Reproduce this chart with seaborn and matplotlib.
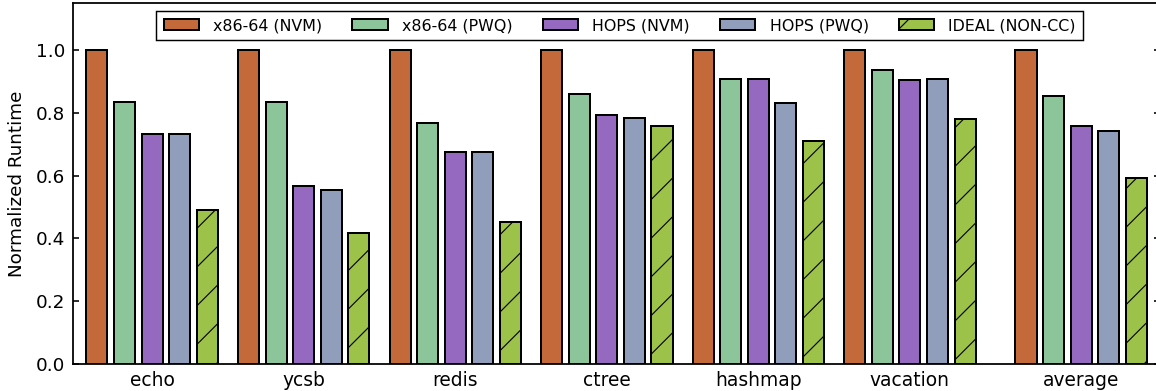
import numpy as np
import pandas as pd
import seaborn as sns
import matplotlib.pyplot as plt

# benchmarks and where each group sits (average is pushed a bit to the right)
benchmarks = ["echo", "ycsb", "redis", "ctree", "hashmap", "vacation", "average"]
positions = [0, 1, 2, 3, 4, 5, 6.13]

series = ["x86-64 (NVM)", "x86-64 (PWQ)", "HOPS (NVM)", "HOPS (PWQ)", "IDEAL (NON-CC)"]
x86_nvm = [1.0, 1.0, 1.0, 1.0, 1.0, 1.0, 1.0]
x86_pwq = [0.834, 0.835, 0.769, 0.861, 0.909, 0.937, 0.854]
hops_nvm = [0.732, 0.566, 0.676, 0.792, 0.907, 0.905, 0.757]
hops_pwq = [0.732, 0.555, 0.676, 0.785, 0.831, 0.908, 0.742]
ideal = [0.490, 0.416, 0.452, 0.758, 0.710, 0.779, 0.593]

colors = ["#c46a3a", "#8cc59a", "#9569c0", "#919ebb", "#9dc24a"]

# long table for seaborn
values = [x86_nvm, x86_pwq, hops_nvm, hops_pwq, ideal]
rows = []
for name, vals in zip(series, values):
    for pos, v in zip(positions, vals):
        rows.append({"pos": pos, "config": name, "runtime": v})
df = pd.DataFrame(rows)

DPI = 232
plt.rcParams["hatch.linewidth"] = 0.35
plt.rcParams["font.family"] = ["DejaVu Sans"]

fig = plt.figure(figsize=(1156 / DPI, 391 / DPI), dpi=DPI)
ax = fig.add_axes([73 / 1156, 27 / 391, (1160 - 73) / 1156, 361 / 391])

sns.barplot(data=df, x="pos", y="runtime", hue="config", hue_order=series,
            palette=colors, saturation=1, native_scale=True, width=0.91,
            gap=0.235, errorbar=None, edgecolor="black", linewidth=0.62,
            legend=False, ax=ax)

# hatch the ideal bars
for p in ax.containers[4]:
    p.set_hatch("//")

ax.set_xlim(-0.522, 6.65)
ax.set_ylim(0, 1.15)
ax.set_xticks(positions)
ax.set_xticklabels(benchmarks)
ax.set_yticks([0.0, 0.2, 0.4, 0.6, 0.8, 1.0])
ax.set_xlabel("")
ax.set_ylabel("Normalized Runtime", fontsize=5.7, labelpad=3)

ax.tick_params(axis="y", direction="in", length=1.9, width=0.5, right=True,
               labelsize=5.7, pad=2.5)
ax.tick_params(axis="x", length=0, labelsize=5.8, pad=2.2)
for s in ax.spines.values():
    s.set_linewidth(0.55)

leg = ax.legend(ax.containers, series, loc="upper center",
                bbox_to_anchor=(0.503, 0.978), borderaxespad=0, ncol=5,
                fontsize=4.95, frameon=True, fancybox=False, framealpha=1,
                edgecolor="black", handlelength=2.2, handleheight=0.75,
                handletextpad=0.9, columnspacing=1.9, borderpad=0.45)
leg.get_frame().set_linewidth(0.45)

fig.savefig("out.png", dpi=DPI)
